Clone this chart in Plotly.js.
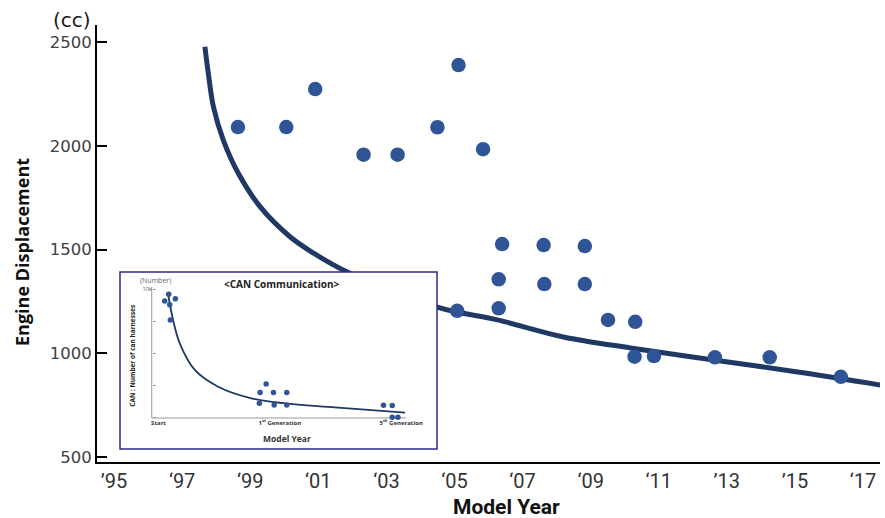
<!DOCTYPE html>
<html>
<head>
<meta charset="utf-8">
<script src="https://cdn.plot.ly/plotly-3.0.1.min.js"></script>
<style>
  html, body { margin: 0; padding: 0; background: #fff; }
  #chart { width: 885px; height: 518px; }
</style>
</head>
<body>
<div id="chart"></div>
<script>
// ---------- Main chart data ----------
const modelYears = [1998.64, 2000.06, 2000.91, 2002.33, 2003.33, 2004.50, 2005.12, 2005.84,
                    2006.40, 2007.62, 2008.83, 2006.30, 2007.64, 2008.83, 2005.08, 2006.30,
                    2009.51, 2010.31, 2010.29, 2010.86, 2012.65, 2014.26, 2016.35];
const displacementCC = [2091, 2091, 2274, 1958, 1958, 2090, 2390, 1984,
                        1527, 1522, 1517, 1357, 1334, 1334, 1205, 1217,
                        1161, 1152, 984, 987, 981, 981, 887];

const trendYears = [1997.67, 1997.77, 1997.92, 1998.21, 1998.65, 1999.29, 2000.17, 2000.85,
                    2001.85, 2004.50, 2005.08, 2006.26, 2008.20, 2010.17, 2012.61, 2015.08, 2017.52];
const trendCC = [2478, 2350, 2189, 2028, 1868, 1707, 1562, 1484,
                 1392, 1223, 1199, 1161, 1079, 1026, 968, 910, 847];

const yearTickVals = [1995, 1997, 1999, 2001, 2003, 2005, 2007, 2009, 2011, 2013, 2015, 2017];
const yearTickText = ['\u201995', '\u201897', '\u201899', '\u201801', '\u201803', '\u201805',
                      '\u201807', '\u201809', '\u201811', '\u201913', '\u201915', '\u201817'];
const ccTickVals = [500, 1000, 1500, 2000, 2500];

// ---------- Inset (CAN communication) data ----------
const canStage = [0.051, 0.084, 0.092, 0.139, 0.097,
                  0.837, 0.887, 0.947, 1.057, 0.831, 0.953, 1.057,
                  1.854, 1.926, 1.926, 1.973];
const canHarness = [9.09, 9.61, 8.80, 9.27, 7.61,
                    1.97, 2.64, 1.97, 1.97, 1.14, 1.01, 1.01,
                    0.99, 0.96, 0.05, 0.05];
const canTrendStage = [0.078, 0.120, 0.175, 0.299, 0.491, 0.765, 1.041, 1.453, 2.031];
const canTrendHarness = [9.69, 7.61, 5.80, 3.73, 2.43, 1.53, 1.14, 0.83, 0.41];
const canTickVals = [0, 1, 2];
const canTickText = ['Start', '1<sup>st</sup> Generation', '5<sup>th</sup> Generation'];
const canYTickVals = [0, 2.5, 5, 7.5, 10];
const canYTickText = ['', '', '', '', '10k'];

// ---------- Pixel helpers for layout (figure is 885 x 518) ----------
const W = 885, H = 518;
const px = v => v / W;
const py = v => 1 - v / H;

const navy = '#1f3864';
const dotBlue = '#2f5597';

// inset value ranges (box covers these, inner axes span the smaller window)
const insetX = [-0.3175, 2.295], insetY = [-2.41, 11.34];
const innerX = [-0.056, 2.041], innerY = [0, 10.18];

const traces = [
  {
    x: trendYears, y: trendCC, xaxis: 'x', yaxis: 'y',
    type: 'scatter', mode: 'lines',
    line: { color: navy, width: 5, shape: 'spline', smoothing: 1 },
    hoverinfo: 'skip'
  },
  {
    x: modelYears, y: displacementCC, xaxis: 'x', yaxis: 'y',
    type: 'scatter', mode: 'markers',
    marker: { color: dotBlue, size: 14.5 },
    cliponaxis: false
  },
  {
    x: canTrendStage, y: canTrendHarness, xaxis: 'x2', yaxis: 'y2',
    type: 'scatter', mode: 'lines',
    line: { color: navy, width: 1.8, shape: 'spline', smoothing: 1 },
    hoverinfo: 'skip'
  },
  {
    x: canStage, y: canHarness, xaxis: 'x2', yaxis: 'y2',
    type: 'scatter', mode: 'markers',
    marker: { color: dotBlue, size: 5.5 },
    cliponaxis: false
  }
];

const ann = (text, x, y, font, extra) => Object.assign({
  text, x: px(x), y: py(y), xref: 'paper', yref: 'paper', showarrow: false,
  xanchor: 'center', yanchor: 'middle', font
}, extra || {});

const layout = {
  width: W, height: H,
  margin: { l: 0, r: 0, t: 0, b: 0 },
  paper_bgcolor: '#ffffff',
  plot_bgcolor: '#ffffff',
  showlegend: false,
  hovermode: false,
  xaxis: {
    domain: [px(97), px(880)],
    range: [1994.5, 2017.5],
    tickvals: yearTickVals, ticktext: yearTickText,
    ticks: '', showgrid: false, zeroline: false,
    showline: true, linecolor: '#000', linewidth: 2,
    tickfont: { family: 'Liberation Sans Narrow, Roboto, sans-serif', size: 20, color: '#333' },
    anchor: 'y', fixedrange: true
  },
  yaxis: {
    domain: [py(462), py(25)],
    range: [476, 2583],
    tickvals: ccTickVals,
    ticks: 'inside', ticklen: 10, tickwidth: 2, tickcolor: '#000',
    showgrid: false, zeroline: false,
    showline: true, linecolor: '#000', linewidth: 2,
    ticklabelstandoff: 0,
    tickfont: { family: 'DejaVu Sans, sans-serif', size: 16.5, color: '#404040' },
    anchor: 'x', fixedrange: true
  },
  // inset subplot: domain is the whole framed box, its white background hides the main curve
  xaxis2: {
    domain: [px(120), px(437)], range: insetX,
    anchor: 'free', position: py(418),
    tickvals: canTickVals, ticktext: canTickText,
    ticks: '', showgrid: false, zeroline: false, showline: false,
    tickfont: { family: 'Open Sans, sans-serif', size: 6, color: '#333', weight: 'bold' },
    fixedrange: true
  },
  yaxis2: {
    domain: [py(449), py(272)], range: insetY,
    anchor: 'free', position: px(151.7),
    tickvals: canYTickVals, ticktext: canYTickText,
    ticks: 'inside', ticklen: 3, tickwidth: 1, tickcolor: '#999',
    showgrid: false, zeroline: false, showline: false,
    tickfont: { family: 'Open Sans, sans-serif', size: 5.5, color: '#555' },
    fixedrange: true
  },
  shapes: [
    // inset frame
    { type: 'rect', xref: 'paper', yref: 'paper', x0: px(120), x1: px(437), y0: py(449), y1: py(272),
      line: { color: '#2b2b8c', width: 1.5 }, fillcolor: 'rgba(0,0,0,0)', layer: 'above' },
    // inset axis lines
    { type: 'line', xref: 'x2', yref: 'y2', x0: innerX[0], x1: innerX[0], y0: innerY[0], y1: innerY[1],
      line: { color: '#999', width: 1 }, layer: 'below' },
    { type: 'line', xref: 'x2', yref: 'y2', x0: innerX[0], x1: innerX[1], y0: innerY[0], y1: innerY[0],
      line: { color: '#999', width: 1 }, layer: 'below' }
  ],
  annotations: [
    ann('(cc)', 72, 20, { family: 'DejaVu Sans, sans-serif', size: 20, color: '#1a1a1a' }),
    ann('Engine Displacement', 22, 252,
        { family: 'Open Sans, sans-serif', size: 18, color: '#111', weight: 'bold' }, { textangle: -90 }),
    ann('Model Year', 507, 507, { family: 'Roboto, sans-serif', size: 21, color: '#111', weight: 'bold' }),
    ann('&lt;CAN Communication&gt;', 281.3, 284,
        { family: 'Open Sans, sans-serif', size: 10, color: '#222', weight: 'bold' }),
    ann('(Number)', 155, 280.7, { family: 'Open Sans, sans-serif', size: 7, color: '#666' }),
    ann('CAN : Number of can harnesses', 131.7, 356,
        { family: 'Open Sans, sans-serif', size: 6.5, color: '#222', weight: 'bold' }, { textangle: -90 }),
    ann('Model Year', 287.3, 438.3, { family: 'Open Sans, sans-serif', size: 8.5, color: '#333', weight: 'bold' })
  ]
};

Plotly.newPlot('chart', traces, layout, { staticPlot: true, displayModeBar: false });
</script>
</body>
</html>
